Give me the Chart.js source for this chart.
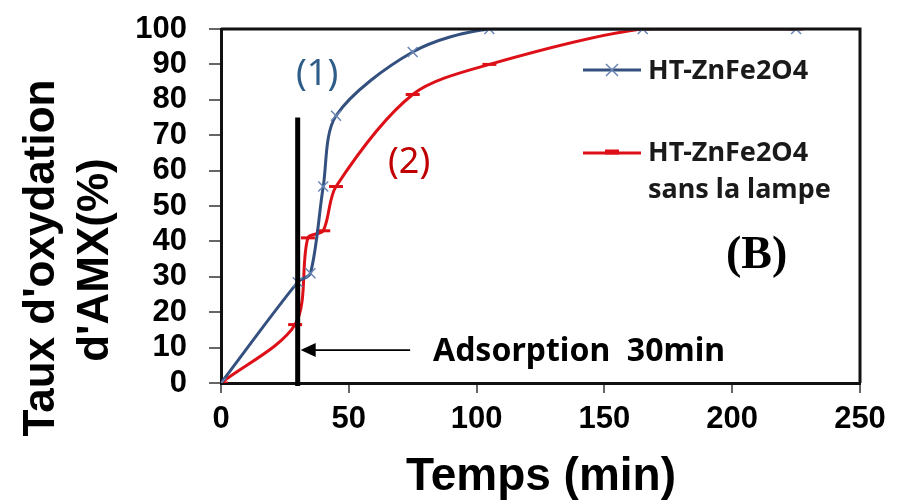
<!DOCTYPE html>
<html>
<head>
<meta charset="utf-8">
<script src="https://cdn.jsdelivr.net/npm/chart.js@4"></script>
<style>
  html, body { margin: 0; padding: 0; background: #fff; }
  #wrap { width: 902px; height: 504px; }
</style>
</head>
<body>
<div id="wrap"><canvas id="chart" width="902" height="504"></canvas></div>
<script>
// series 1 : avec lampe, series 2 : sans la lampe
const timeLamp = [0, 30, 35, 40, 45, 75, 105, 165, 225];
const rateLamp = [0, 28.5, 31, 55.5, 75.5, 93.5, 100, 100, 100];
const timeDark = [0, 29, 34, 40, 45, 75, 105, 165, 225];
const rateDark = [0, 16.5, 41, 43, 55.5, 81.5, 90, 100, 100];

const legendLabels = ['HT-ZnFe2O4', ['HT-ZnFe2O4', 'sans la lampe']];
const xTitle = 'Temps (min)';
const yTitle = ["Taux d'oxydation", "d'AMX(%)"];

// adsorption marker
const adsTime = 30;
const adsTop = 75;
const arrowFrom = 74;
const arrowLevel = 9.3;
const adsText = 'Adsorption  30min';

const blue = '#34507f';
const blueMark = '#6a86b4';
const red = '#dd1018';

const toXY = (xs, ys) => xs.map((x, i) => ({ x: x, y: ys[i] }));

const extras = {
    id: 'extras',
    afterDatasetsDraw(chart) {
        const ctx = chart.ctx;
        const xs = chart.scales.x;
        const ys = chart.scales.y;
        const area = chart.chartArea;
        ctx.save();

        // box top / right
        ctx.strokeStyle = '#111';
        ctx.lineWidth = 3;
        ctx.beginPath();
        ctx.moveTo(area.left, area.top);
        ctx.lineTo(area.right, area.top);
        ctx.lineTo(area.right, area.bottom);
        ctx.stroke();

        // vertical adsorption line
        const vx = xs.getPixelForValue(adsTime);
        ctx.lineWidth = 5;
        ctx.strokeStyle = '#000';
        ctx.beginPath();
        ctx.moveTo(vx, ys.getPixelForValue(adsTop));
        ctx.lineTo(vx, ys.getPixelForValue(0) + 3);
        ctx.stroke();

        // arrow
        const ay = ys.getPixelForValue(arrowLevel);
        const ax1 = xs.getPixelForValue(arrowFrom);
        const ax0 = vx + 3;
        ctx.lineWidth = 1.6;
        ctx.beginPath();
        ctx.moveTo(ax1, ay);
        ctx.lineTo(ax0 + 12, ay);
        ctx.stroke();
        ctx.fillStyle = '#000';
        ctx.beginPath();
        ctx.moveTo(ax0, ay);
        ctx.lineTo(ax0 + 15, ay - 7);
        ctx.lineTo(ax0 + 15, ay + 7);
        ctx.closePath();
        ctx.fill();

        ctx.font = 'bold 32px "Noto Sans"';
        ctx.textBaseline = 'middle';
        ctx.textAlign = 'left';
        ctx.fillText(adsText, 433, 352);

        // curve labels
        ctx.font = '36px "Noto Sans"';
        ctx.fillStyle = '#2f5d8a';
        ctx.fillText('(1)', 296, 75);
        ctx.fillStyle = '#c00000';
        ctx.fillText('(2)', 388, 163);

        ctx.fillStyle = '#000';
        ctx.font = 'bold 46px "Liberation Serif"';
        ctx.fillText('(B)', 726, 256);

        // legend
        ctx.lineWidth = 3;
        ctx.strokeStyle = blue;
        ctx.beginPath();
        ctx.moveTo(583, 70);
        ctx.lineTo(641, 70);
        ctx.stroke();
        ctx.strokeStyle = blueMark;
        ctx.lineWidth = 1.5;
        ctx.beginPath();
        ctx.moveTo(606, 64); ctx.lineTo(618, 76);
        ctx.moveTo(618, 64); ctx.lineTo(606, 76);
        ctx.stroke();

        ctx.strokeStyle = red;
        ctx.lineWidth = 3;
        ctx.beginPath();
        ctx.moveTo(583, 153);
        ctx.lineTo(641, 153);
        ctx.stroke();
        ctx.lineWidth = 5;
        ctx.beginPath();
        ctx.moveTo(605, 152);
        ctx.lineTo(619, 152);
        ctx.stroke();

        ctx.fillStyle = '#1a1a1a';
        ctx.font = 'bold 27px "Noto Sans"';
        ctx.fillText(legendLabels[0], 648, 71);
        ctx.fillText(legendLabels[1][0], 648, 153);
        ctx.fillText(legendLabels[1][1], 648, 190);

        // axis titles
        ctx.fillStyle = '#000';
        ctx.textAlign = 'center';
        ctx.font = 'bold 46px "Liberation Sans"';
        ctx.fillText(xTitle, 541, 477);

        ctx.font = 'bold 44px "Liberation Sans"';
        ctx.save();
        ctx.translate(42, 258);
        ctx.rotate(-Math.PI / 2);
        ctx.fillText(yTitle[0], 0, 0);
        ctx.restore();
        ctx.save();
        ctx.translate(96, 260);
        ctx.rotate(-Math.PI / 2);
        ctx.fillText(yTitle[1], 0, 0);
        ctx.restore();

        ctx.restore();
    }
};

new Chart(document.getElementById('chart').getContext('2d'), {
    type: 'line',
    data: {
        datasets: [{
            label: legendLabels[0],
            data: toXY(timeLamp, rateLamp),
            borderColor: blue,
            borderWidth: 3,
            pointStyle: 'crossRot',
            pointRadius: 7,
            pointBorderColor: blueMark,
            pointBorderWidth: 1.5,
            tension: 0.3,
            fill: false
        }, {
            label: legendLabels[1].join(' '),
            data: toXY(timeDark, rateDark),
            borderColor: red,
            borderWidth: 3,
            pointStyle: 'line',
            pointRadius: 7,
            pointBorderColor: red,
            pointBorderWidth: 3,
            tension: 0.3,
            fill: false
        }]
    },
    options: {
        responsive: false,
        animation: false,
        layout: { padding: { top: 29, right: 42, left: 0, bottom: 0 } },
        plugins: {
            legend: { display: false },
            tooltip: { enabled: false }
        },
        scales: {
            x: {
                type: 'linear',
                min: 0,
                max: 250,
                afterFit: (scale) => {
                    scale.height = 121;
                    scale.paddingLeft = 0;
                    scale.paddingRight = 0;
                },
                grid: { drawOnChartArea: false, tickLength: 10, color: '#666', lineWidth: 2 },
                border: { display: true, color: '#111', width: 3 },
                ticks: {
                    stepSize: 50,
                    padding: 8,
                    color: '#000',
                    font: { family: '"Liberation Sans"', size: 31, weight: 'bold' }
                }
            },
            y: {
                min: 0,
                max: 100,
                afterFit: (scale) => {
                    scale.width = 221;
                    scale.paddingTop = 0;
                    scale.paddingBottom = 0;
                },
                grid: { drawOnChartArea: false, tickLength: 12, color: '#666', lineWidth: 2 },
                border: { display: true, color: '#111', width: 3 },
                ticks: {
                    stepSize: 10,
                    autoSkip: false,
                    padding: 22,
                    color: '#000',
                    font: { family: '"Liberation Sans"', size: 31, weight: 'bold' }
                }
            }
        }
    },
    plugins: [extras]
});
</script>
</body>
</html>
